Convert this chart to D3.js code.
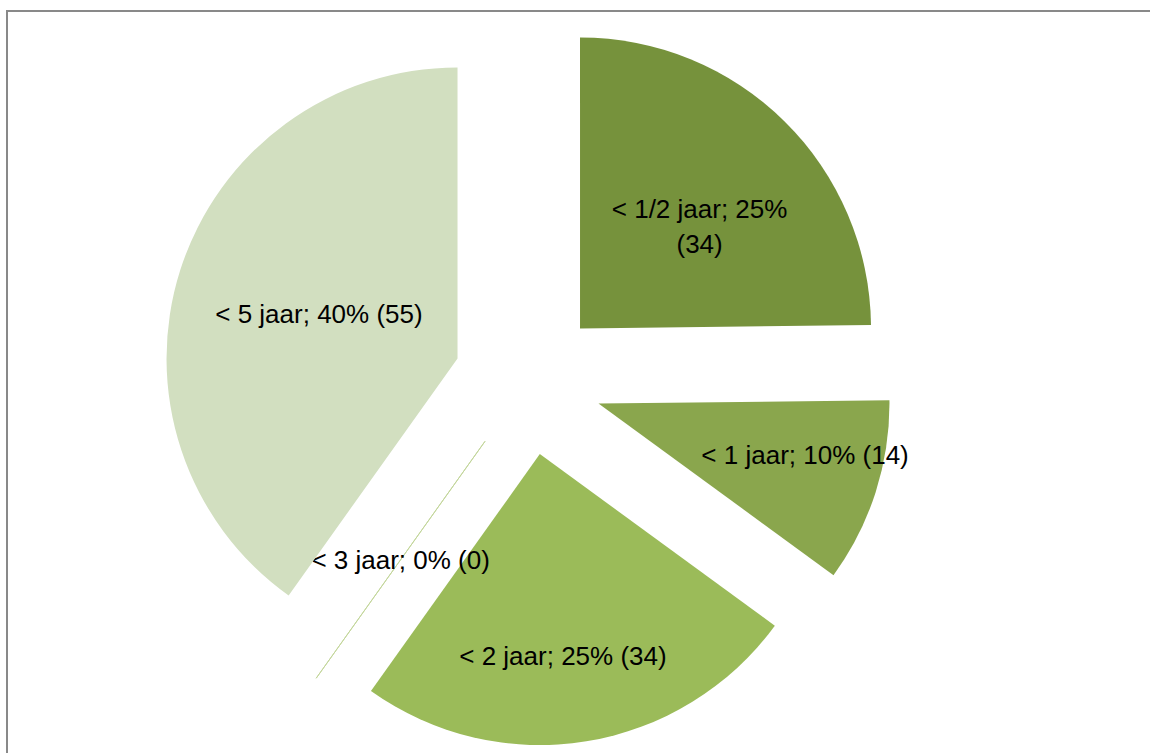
<!DOCTYPE html>
<html>
<head>
<meta charset="utf-8">
<script src="https://cdn.jsdelivr.net/npm/d3@7"></script>
<style>
  body { margin: 0; background: #fff; }
  svg text { font-family: "Liberation Sans", Arial, sans-serif; }
</style>
</head>
<body>
<div id="chart"></div>
<script>
// categories + values
let categories = ['< 1/2 jaar', '< 1 jaar', '< 2 jaar', '< 3 jaar', '< 5 jaar'];
let counts = [34, 14, 34, 0, 55];
let percents = [25, 10, 25, 0, 40];

let colors = ['#76923c', '#8aa64d', '#9bbb59', '#c3d69b', '#d2dfc0'];

// label placement: fraction of radius along the middle angle, plus a small nudge
let labelPos = [0.56, 0.72, 0.69, 0.5, 0.5];
let labelNudge = [[5, 0], [7, -12], [-9, 4], [0, 0], [0, 0]];
let labelWrap = [true, false, false, false, false];

let width = 1150,
    height = 753;

let svg = d3.select('#chart').append('svg')
    .attr('width', width)
    .attr('height', height);

// chart area frame, runs off the right and bottom edges
svg.append('rect')
    .attr('x', 7)
    .attr('y', 11)
    .attr('width', 1160)
    .attr('height', 760)
    .style('fill', 'none')
    .style('stroke', '#898989')
    .style('stroke-width', 2);

let cx = 528,
    cy = 381,
    radius = 291,
    explode = 74;

let pie = d3.pie().sort(null).value(function(d) { return d.count; });
let arc = d3.arc().innerRadius(0).outerRadius(radius);

let rows = categories.map(function(c, i) {
    return {name: c, count: counts[i], pct: percents[i], color: colors[i],
            lp: labelPos[i], nudge: labelNudge[i], wrap: labelWrap[i]};
});

let slices = pie(rows);

function offset(d, dist) {
    let a = (d.startAngle + d.endAngle) / 2;
    return [Math.sin(a) * dist, -Math.cos(a) * dist];
}

let g = svg.append('g').attr('transform', 'translate(' + cx + ',' + cy + ')');

let parts = g.selectAll('g.slice')
    .data(slices)
    .enter()
    .append('g')
    .attr('class', 'slice')
    .attr('transform', function(d) {
        let o = offset(d, explode);
        return 'translate(' + o[0] + ',' + o[1] + ')';
    });

parts.append('path')
    .attr('d', arc)
    .style('fill', function(d) { return d.data.color; })
    .style('stroke', function(d) { return d.data.count === 0 ? d.data.color : 'none'; })
    .style('stroke-width', 1);

parts.append('text')
    .attr('transform', function(d) {
        let o = offset(d, radius * d.data.lp);
        return 'translate(' + (o[0] + d.data.nudge[0]) + ',' + (o[1] + d.data.nudge[1]) + ')';
    })
    .attr('text-anchor', 'middle')
    .style('font-size', '26px')
    .style('fill', '#000')
    .each(function(d) {
        let t = d3.select(this);
        let head = d.data.name + '; ' + d.data.pct + '%';
        let tail = '(' + d.data.count + ')';
        if (d.data.wrap) {
            t.append('tspan').attr('x', 0).attr('y', 6).text(head);
            t.append('tspan').attr('x', 0).attr('y', 41).text(tail);
        } else {
            t.append('tspan').attr('x', 0).attr('y', 9).text(head + ' ' + tail);
        }
    });
</script>
</body>
</html>
